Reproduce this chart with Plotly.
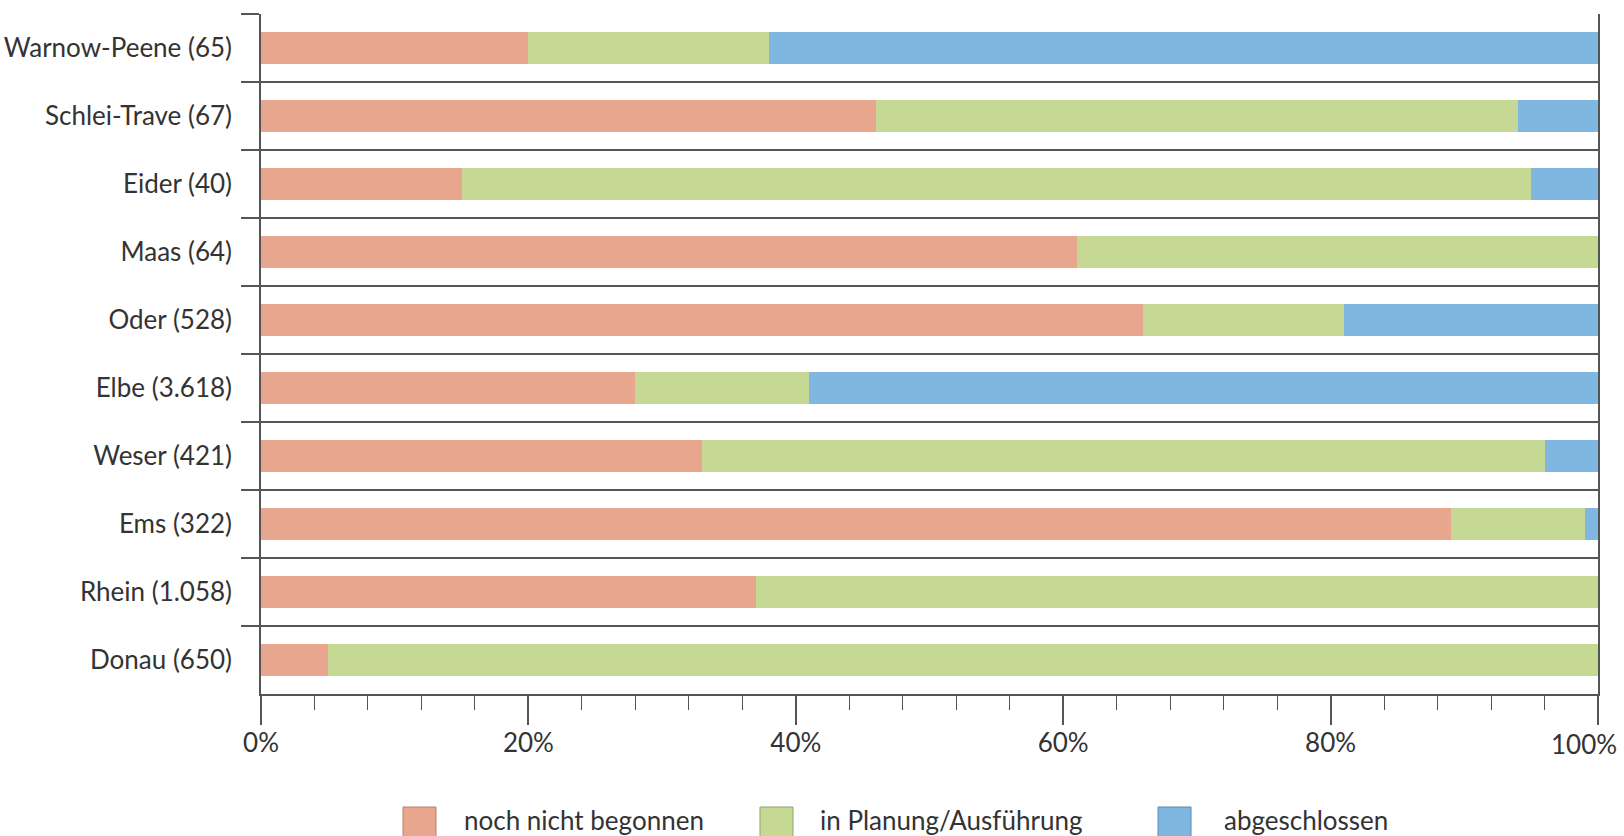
import plotly.graph_objects as go

# Fortschritt der Maßnahmen je Flussgebietseinheit (Anteile in %)
categories = [
    "Warnow-Peene (65)", "Schlei-Trave (67)", "Eider (40)", "Maas (64)",
    "Oder (528)", "Elbe (3.618)", "Weser (421)", "Ems (322)",
    "Rhein (1.058)", "Donau (650)",
]
noch_nicht_begonnen = [20, 46, 15, 61, 66, 28, 33, 89, 37, 5]
in_planung = [18, 48, 80, 39, 15, 13, 63, 10, 63, 95]
abgeschlossen = [62, 6, 5, 0, 19, 59, 4, 1, 0, 0]

series_names = ["noch nicht begonnen", "in Planung/Ausführung", "abgeschlossen"]
series_values = [noch_nicht_begonnen, in_planung, abgeschlossen]
colors = ["#E8A68F", "#C5D995", "#80B7E1"]
border_colors = ["#B88070", "#8FA070", "#5E88A8"]

x_ticks = [0, 20, 40, 60, 80, 100]
x_tick_labels = [f"{v}%" for v in x_ticks]

FONT = "Lato, Roboto, sans-serif"
TEXT = "#333333"
LINE = "#555555"
FS = 26

fig = go.Figure()
for name, vals, col in zip(series_names, series_values, colors):
    fig.add_trace(go.Bar(
        y=categories, x=vals, name=name, orientation="h",
        marker=dict(color=col, line=dict(width=0)),
        showlegend=False,
    ))

W, H = 1624, 836
L, R, T, B = 261, 26, 14, 142
pw, ph = W - L - R, H - T - B

def px_x(p):
    return (p - L) / pw

def px_y(p):
    return (H - B - p) / ph

# Legende: Farbfelder und Beschriftungen unter der Achse
sq_left = [403, 760, 1158]
txt_left = [462, 818, 1222]
for name, col, bcol, sx, tx in zip(series_names, colors, border_colors, sq_left, txt_left):
    fig.add_shape(
        type="rect", xref="paper", yref="paper",
        x0=px_x(sx), x1=px_x(sx + 33), y0=px_y(807), y1=px_y(842),
        fillcolor=col, line=dict(color=bcol, width=1),
    )
    fig.add_annotation(
        text=name, xref="paper", yref="paper",
        x=px_x(tx), y=px_y(820), xanchor="left", yanchor="middle",
        showarrow=False, font=dict(family=FONT, size=FS, color=TEXT),
    )

# Die letzte Tick-Beschriftung wird nach links eingerückt, damit sie ins Bild passt
axis_labels = x_tick_labels[:-1] + [""]
fig.add_annotation(
    text=x_tick_labels[-1], xref="x", yref="paper",
    x=x_ticks[-1], y=px_y(744), xanchor="right", yanchor="middle", xshift=21,
    showarrow=False, font=dict(family=FONT, size=FS, color=TEXT),
)

fig.update_layout(
    width=W, height=H,
    margin=dict(l=L, r=R, t=T, b=B, pad=0),
    barmode="stack", bargap=0.53,
    plot_bgcolor="white", paper_bgcolor="white",
    font=dict(family=FONT, size=FS, color=TEXT),
    xaxis=dict(
        range=[0, 100], tickmode="array", tickvals=x_ticks, ticktext=axis_labels,
        ticks="outside", ticklen=29, tickwidth=1.5, tickcolor=LINE,
        minor=dict(dtick=4, tick0=0, ticks="outside", ticklen=14, tickwidth=1.2, tickcolor=LINE),
        showgrid=False, zeroline=False, automargin=False,
        showline=True, linecolor=LINE, linewidth=1.5,
        tickfont=dict(family=FONT, size=FS, color=TEXT),
        ticklabelstandoff=-4,
    ),
    yaxis=dict(
        categoryorder="array", categoryarray=categories, autorange="reversed",
        tickson="boundaries", ticks="outside", ticklen=18, tickwidth=1.5, tickcolor=LINE,
        showgrid=True, gridcolor=LINE, gridwidth=1.5,
        showline=True, linecolor=LINE, linewidth=1.5, mirror=True,
        zeroline=False, automargin=False,
        tickfont=dict(family=FONT, size=FS, color=TEXT),
        ticklabelstandoff=22,
    ),
)

fig.write_html("out.html")
